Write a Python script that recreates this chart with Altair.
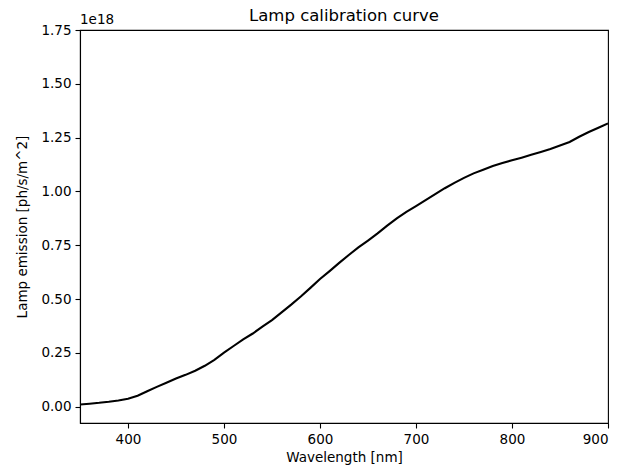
import altair as alt
import pandas as pd

# Wavelength [nm]
wavelength = [350, 360, 370, 380, 390, 400, 410, 420, 430, 440, 450, 460, 470, 480, 490,
              500, 510, 520, 530, 540, 550, 560, 570, 580, 590, 600, 610, 620, 630, 640,
              650, 660, 670, 680, 690, 700, 710, 720, 730, 740, 750, 760, 770, 780, 790,
              800, 810, 820, 830, 840, 850, 860, 870, 880, 890, 900]
# Lamp emission in units of 1e18 ph/s/m^2
emission = [0.010, 0.014, 0.018, 0.023, 0.029, 0.037, 0.051, 0.072, 0.092, 0.111, 0.131,
            0.148, 0.167, 0.190, 0.218, 0.251, 0.282, 0.313, 0.340, 0.372, 0.402, 0.438,
            0.474, 0.512, 0.552, 0.593, 0.630, 0.668, 0.705, 0.740, 0.772, 0.805, 0.841,
            0.875, 0.905, 0.932, 0.960, 0.988, 1.015, 1.040, 1.063, 1.084, 1.101, 1.118,
            1.132, 1.145, 1.157, 1.170, 1.183, 1.197, 1.213, 1.230, 1.254, 1.276, 1.296,
            1.316]
y_ticks = [0.0, 0.25, 0.5, 0.75, 1.0, 1.25, 1.5, 1.75]
x_ticks = [400, 500, 600, 700, 800, 900]
title_text = ["Lamp calibration curve"]
offset_text = ["1e18"]

df = pd.DataFrame({"wl": wavelength, "em": emission})

FONT = "DejaVu Sans"

line = alt.Chart(df).mark_line(color="black", strokeWidth=2.1, clip=True).encode(
    x=alt.X("wl:Q", scale=alt.Scale(domain=[350, 900], nice=False, zero=False),
            axis=alt.Axis(values=x_ticks, format="d", title="Wavelength [nm]",
                          titlePadding=5)),
    y=alt.Y("em:Q", scale=alt.Scale(domain=[-0.0757, 1.75], nice=False, zero=False),
            axis=alt.Axis(values=y_ticks, format=".2f", title="Lamp emission [ph/s/m^2]",
                          titlePadding=11)),
)

offset = alt.Chart(pd.DataFrame({"t": offset_text})).mark_text(
    align="left", baseline="bottom", font=FONT, fontSize=13.5, color="black", dy=-3
).encode(x=alt.value(0), y=alt.value(0), text="t:N")

title = alt.Chart(pd.DataFrame({"t": title_text})).mark_text(
    align="center", baseline="alphabetic", font=FONT, fontSize=16.5, color="black"
).encode(x=alt.value(264), y=alt.value(-9), text="t:N")

chart = (line + offset + title).properties(
    width=528, height=393,
    autosize=alt.AutoSizeParams(type="none"),
    padding={"left": 80, "top": 30, "right": 26, "bottom": 49},
    background="white",
).configure_view(stroke="black", strokeWidth=1.1).configure_axis(
    domainColor="black", domainWidth=1.1, tickColor="black", tickWidth=1.1, tickSize=5,
    labelFont=FONT, labelFontSize=13.5, labelColor="black", labelPadding=4,
    titleFont=FONT, titleFontSize=13.5, titleFontWeight="normal", titleColor="black",
    grid=False,
)

chart.save("out.html", embed_options={"renderer": "svg", "actions": False})
